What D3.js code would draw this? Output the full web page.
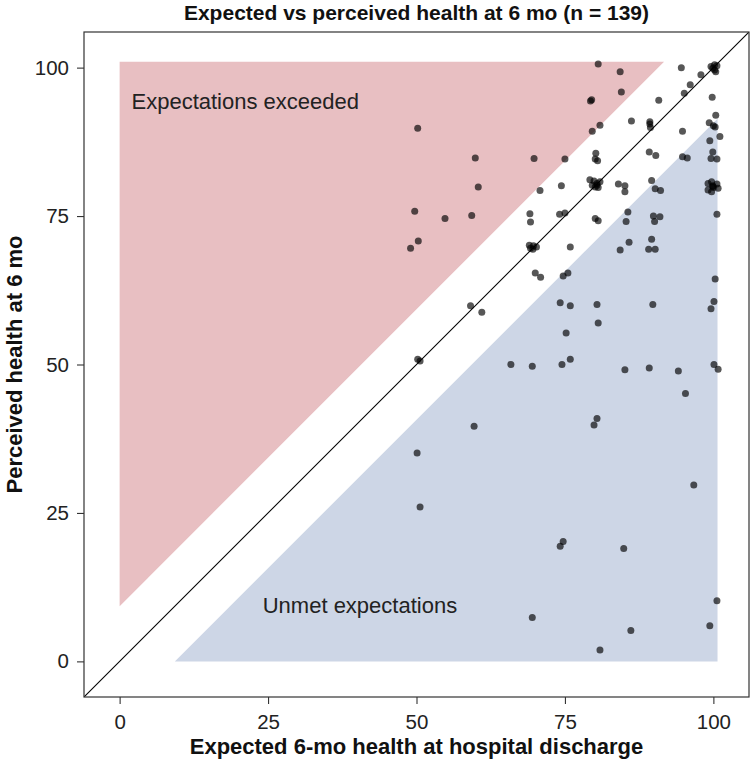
<!DOCTYPE html>
<html>
<head>
<meta charset="utf-8">
<script src="https://cdn.jsdelivr.net/npm/d3@7"></script>
<style>
  html, body { margin: 0; padding: 0; background: #fff; }
  svg { display: block; font-family: "Liberation Sans", Arial, Helvetica, sans-serif; }
</style>
</head>
<body>
<svg id="chart" width="752" height="768"></svg>
<script>
// ---- Data ----
const title = "Expected vs perceived health at 6 mo (n = 139)";
const xLabel = "Expected 6-mo health at hospital discharge";
const yLabel = "Perceived health at 6 mo";
const tickValues = [0, 25, 50, 75, 100];
const regionLabels = ["Expectations exceeded", "Unmet expectations"];

// expected 6-mo health at discharge
const expected = [
  80.6, 84.3, 94.6, 99.6, 100.2, 100.6, 100.4, 97.9, 96.1, 84.5,
  95.1, 79.3, 79.5, 90.8, 99.8, 50.2, 80.9, 79.6, 86.2, 89.3,
  89.4, 89.3, 100.4, 99.3, 100.0, 100.3, 94.8, 99.4, 101.1, 59.9,
  69.8, 75.0, 80.2, 80.1, 80.5, 89.2, 90.3, 94.8, 95.6, 99.9,
  99.6, 100.6, 60.4, 70.8, 74.4, 79.2, 79.6, 80.1, 80.6, 80.9,
  80.4, 84.0, 85.1, 85.1, 89.6, 90.2, 91.1, 99.1, 99.7, 100.6,
  100.0, 99.1, 99.7, 100.8, 99.9, 49.7, 54.8, 59.3, 69.1, 69.2,
  74.1, 75.0, 80.1, 80.6, 85.6, 85.3, 89.9, 91.0, 90.1, 100.6,
  50.3, 49.0, 69.0, 69.6, 70.2, 69.2, 75.9, 85.8, 84.3, 89.6,
  89.1, 90.2, 70.0, 70.9, 75.5, 74.7, 100.3, 59.1, 61.0, 74.2,
  75.9, 80.4, 89.8, 100.1, 99.6, 80.6, 75.2, 50.2, 50.6, 65.9,
  69.5, 74.5, 75.9, 85.1, 89.2, 94.1, 95.3, 100.1, 100.8, 59.7,
  80.4, 79.9, 50.1, 96.7, 50.6, 74.7, 74.2, 84.9, 100.6, 69.5,
  86.1, 99.4, 80.9, 99.9, 100.2, 79.9, 80.4, 99.9, 69.7
];
// perceived health at 6 mo
const perceived = [
  100.6, 99.3, 100.0, 100.2, 100.5, 100.3, 99.3, 98.8, 97.1, 95.9,
  95.7, 94.4, 94.6, 94.5, 95.0, 89.8, 90.3, 89.3, 91.0, 90.9,
  89.9, 90.5, 92.0, 90.7, 90.2, 90.0, 89.3, 87.7, 88.4, 84.8,
  84.7, 84.6, 85.6, 84.6, 84.3, 85.8, 85.2, 85.0, 84.8, 85.8,
  84.7, 84.6, 79.9, 79.3, 80.1, 81.1, 80.2, 79.9, 79.8, 80.8,
  80.5, 80.4, 80.1, 79.1, 81.0, 79.6, 79.3, 80.5, 80.8, 80.4,
  79.8, 79.4, 79.1, 79.7, 80.1, 75.8, 74.6, 75.1, 75.4, 74.0,
  75.3, 75.5, 74.6, 74.2, 75.7, 74.1, 75.0, 74.9, 74.1, 75.3,
  70.8, 69.6, 70.1, 69.4, 69.8, 69.6, 69.8, 70.6, 69.3, 71.1,
  69.4, 69.4, 65.4, 64.7, 65.4, 64.9, 64.4, 59.9, 58.8, 60.4,
  59.9, 60.1, 60.1, 60.6, 59.4, 57.0, 55.3, 50.9, 50.6, 50.0,
  49.7, 50.0, 50.9, 49.1, 49.4, 48.9, 45.1, 50.0, 49.2, 39.6,
  40.9, 39.8, 35.1, 29.7, 26.0, 20.2, 19.4, 19.0, 10.2, 7.4,
  5.2, 6.0, 1.9, 99.9, 99.6, 80.9, 80.2, 80.0, 70.0
];

// shaded regions (data space)
const bandOffset = 9.3;
const exceededRegion = [[0, bandOffset], [0, 101], [101 - bandOffset, 101]];
const unmetRegion = [[bandOffset, 0], [100.7, 0], [100.7, 100.7 - bandOffset]];

// ---- Layout ----
const svg = d3.select("#chart");
const plot = { left: 84, top: 32, width: 665, height: 665 };
const domain = [-6, 106];

const x = d3.scaleLinear().domain(domain).range([plot.left, plot.left + plot.width]);
const y = d3.scaleLinear().domain(domain).range([plot.top + plot.height, plot.top]);

svg.append("defs").append("clipPath").attr("id", "clip")
  .append("rect").attr("x", plot.left).attr("y", plot.top)
  .attr("width", plot.width).attr("height", plot.height);

const g = svg.append("g").attr("clip-path", "url(#clip)");

const poly = d3.line().x(d => x(d[0])).y(d => y(d[1]));
g.append("path").attr("d", poly(exceededRegion) + "Z").attr("fill", "#e8bfc2");
g.append("path").attr("d", poly(unmetRegion) + "Z").attr("fill", "#cdd6e6");

g.append("text").attr("x", x(2)).attr("y", y(93.1))
  .attr("font-size", 22).attr("fill", "#222").text(regionLabels[0]);
g.append("text").attr("x", x(24.1)).attr("y", y(8.1))
  .attr("font-size", 22).attr("fill", "#222").text(regionLabels[1]);

// diagonal
g.append("line")
  .attr("x1", x(domain[0])).attr("y1", y(domain[0]))
  .attr("x2", x(domain[1])).attr("y2", y(domain[1]))
  .attr("stroke", "#000").attr("stroke-width", 1.1);

// points
g.selectAll("circle").data(expected.map((e, i) => [e, perceived[i]]))
  .enter().append("circle")
  .attr("cx", d => x(d[0])).attr("cy", d => y(d[1]))
  .attr("r", 3.5).attr("fill", "#000").attr("fill-opacity", 0.66);

// frame
svg.append("rect").attr("x", plot.left).attr("y", plot.top)
  .attr("width", plot.width).attr("height", plot.height)
  .attr("fill", "none").attr("stroke", "#333").attr("stroke-width", 1.2);

// axes
const xAxis = svg.append("g").attr("transform", `translate(0,${plot.top + plot.height})`)
  .call(d3.axisBottom(x).tickValues(tickValues).tickSize(7).tickPadding(10));
const yAxis = svg.append("g").attr("transform", `translate(${plot.left},0)`)
  .call(d3.axisLeft(y).tickValues(tickValues).tickSize(7).tickPadding(8));
[xAxis, yAxis].forEach(a => {
  a.select(".domain").remove();
  a.selectAll(".tick line").attr("stroke", "#333").attr("stroke-width", 1.1);
  a.selectAll(".tick text").attr("font-size", 20.5).attr("fill", "#222")
    .attr("font-family", "Liberation Sans, Arial, sans-serif");
});

// titles
svg.append("text").attr("x", plot.left + plot.width / 2).attr("y", 20)
  .attr("text-anchor", "middle").attr("font-weight", "bold").attr("font-size", 21)
  .attr("fill", "#111").text(title);
svg.append("text").attr("x", plot.left + plot.width / 2).attr("y", 754)
  .attr("text-anchor", "middle").attr("font-weight", "bold").attr("font-size", 22)
  .attr("fill", "#111").text(xLabel);
svg.append("text").attr("transform", `translate(22,${plot.top + plot.height / 2}) rotate(-90)`)
  .attr("text-anchor", "middle").attr("font-weight", "bold").attr("font-size", 22)
  .attr("fill", "#111").text(yLabel);
</script>
</body>
</html>
